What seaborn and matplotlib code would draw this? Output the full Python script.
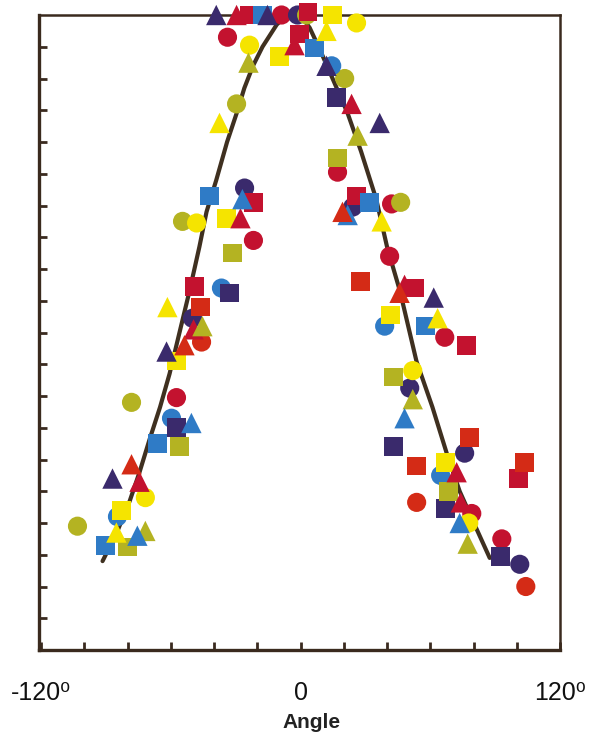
import numpy as np
import pandas as pd
import seaborn as sns
import matplotlib.pyplot as plt
from matplotlib.ticker import FixedLocator

# colours of the six series
colours = {
    "yellow": "#f5e400",
    "olive": "#b4b322",
    "crimson": "#c3122f",
    "vermilion": "#d42b16",
    "blue": "#2f7bc6",
    "navy": "#3a2a6c",
}

# circles
circle_angle = [-8.8, -33.8, 17.1, 42.1, -21.8, -57.4, 41.2, 66.7, 79.2, 93.1,
                -1.4, 24.1, -25.9, -50.0, 50.5, 75.9, 101.4,
                2.8, 20.4, -29.6, 46.3, -54.6, -78.2, -103.2,
                25.9, -23.6, -48.1, -71.8, 51.9, 77.8,
                14.4, -36.6, -59.7, -84.7, 38.9, 64.8,
                -45.8, 53.7, 104.2]
circle_value = [20.0, 19.3, 15.05, 14.05, 12.9, 7.95, 12.4, 9.85, 4.3, 3.5,
                20.0, 13.95, 14.55, 10.45, 8.25, 6.2, 2.7,
                20.0, 18.0, 17.2, 14.1, 13.5, 7.8, 3.9,
                19.75, 19.05, 13.45, 4.8, 8.8, 4.0,
                18.4, 11.4, 7.3, 4.2, 10.2, 5.5,
                9.7, 4.65, 2.0]
circle_colour = (["crimson"] * 10 + ["navy"] * 7 + ["olive"] * 7 + ["yellow"] * 6
                 + ["blue"] * 6 + ["vermilion"] * 3)

# squares
square_angle = [-23.6, 3.5, -0.5, 25.9, -21.8, -49.1, 52.8, 76.9, 100.9,
                16.7, -32.9, -57.4, 43.1, 67.1, 92.6,
                17.1, -31.5, -56.0, -80.1, 43.1, 68.5,
                14.8, -9.7, -34.3, -57.4, -82.9, 41.7, 67.1,
                -17.6, 6.5, 31.9, -42.1, -66.2, -90.3, 57.9,
                -46.3, 27.8, 78.2, 53.7, 103.7]
square_value = [20.0, 20.1, 19.4, 14.3, 14.1, 11.45, 11.4, 9.6, 5.4,
                17.4, 11.25, 7.0, 6.4, 4.45, 2.95,
                15.5, 12.5, 6.4, 3.25, 8.6, 5.0,
                20.0, 18.7, 13.6, 9.1, 4.4, 10.55, 5.9,
                20.0, 18.96, 14.1, 14.3, 6.5, 3.3, 10.2,
                10.8, 11.6, 6.7, 5.8, 5.9]
square_colour = (["crimson"] * 9 + ["navy"] * 6 + ["olive"] * 6 + ["yellow"] * 7
                 + ["blue"] * 7 + ["vermilion"] * 5)

# triangles
triangle_angle = [-39.0, -15.3, 12.0, 36.6, -62.0, -87.0, 61.6,
                  -29.6, -2.8, 23.6, -27.8, -49.5, -74.5, 48.1, 72.2, 74.1,
                  12.0, -37.5, 37.5, -61.6, -85.2, 63.4,
                  -24.1, 26.4, -45.4, -71.8, 51.9, 77.3,
                  21.8, -26.9, -50.5, -75.5, 48.1, 73.6,
                  19.4, -53.7, -78.2, 45.8]
triangle_value = [20.0, 20.0, 18.4, 16.6, 9.4, 5.4, 11.1,
                  20.0, 19.05, 17.2, 13.6, 10.1, 5.3, 11.5, 5.6, 4.65,
                  19.5, 16.6, 13.5, 10.8, 3.7, 10.45,
                  18.5, 16.2, 10.2, 3.75, 7.9, 3.35,
                  13.7, 14.2, 7.15, 3.6, 7.3, 4.0,
                  13.8, 9.6, 5.85, 11.25]
triangle_colour = (["navy"] * 7 + ["crimson"] * 9 + ["yellow"] * 6 + ["olive"] * 6
                   + ["blue"] * 6 + ["vermilion"] * 4)

# fitted curve
curve_angle = [-91.6, -85, -79, -74.5, -70, -65, -60.6, -56, -51.4, -46.8, -43.5,
               -39, -34, -29.6, -26, -22, -17.6, -11, -7, -3, 1, 4.2, 9, 14.8,
               21.8, 28, 35, 40, 46, 53.6, 61, 67.6, 73.6, 81.5, 87.5]
curve_value = [2.8, 3.7, 4.7, 5.6, 6.6, 7.65, 8.7, 10.0, 11.3, 12.7, 13.8,
               14.8, 16.0, 16.9, 17.7, 18.4, 19.0, 19.7, 19.95, 20.05, 19.9, 19.6, 18.9, 18.0,
               16.9, 15.7, 14.2, 12.7, 11.3, 9.1, 7.65, 6.2, 5.0, 3.8, 2.9]

sns.set_style("white")
plt.rcParams["font.family"] = ["Liberation Sans", "DejaVu Sans"]
plt.rcParams["text.color"] = "#111111"
plt.rcParams["xtick.labelcolor"] = "#111111"

fig = plt.figure(figsize=(5.9, 7.32), dpi=100)
ax = fig.add_axes([0.0661, 0.112, 0.883, 0.8675])

sns.lineplot(x=curve_angle, y=curve_value, ax=ax, color="#3f3020", lw=3.0, sort=False)

groups = [
    (circle_angle, circle_value, circle_colour, "o", 190),
    (square_angle, square_value, square_colour, "s", 180),
    (triangle_angle, triangle_value, triangle_colour, "^", 215),
]
for xs, ys, cs, mk, size in groups:
    df = pd.DataFrame({"angle": xs, "value": ys, "colour": cs})
    sns.scatterplot(data=df, x="angle", y="value", hue="colour", palette=colours,
                    marker=mk, s=size, linewidth=0, ax=ax, legend=False,
                    clip_on=False, zorder=3)

ax.set_xlim(-121, 120)
ax.set_ylim(0, 20)

ax.xaxis.set_major_locator(FixedLocator([-120, -100, -80, -60, -40, -20, 0,
                                         20, 40, 60, 80, 100, 120]))
ax.set_xticklabels(["-120\u2070", "", "", "", "", "", "0", "", "", "", "", "", "120\u2070"])
ax.yaxis.set_major_locator(FixedLocator(np.arange(1, 20)))
ax.set_yticklabels([])

ax.tick_params(axis="both", direction="in", length=6, width=2, color="#3a2a1e",
               labelsize=18, pad=22)
ax.tick_params(axis="y", left=True)
ax.tick_params(axis="x", bottom=True)

for side in ["left", "right", "top", "bottom"]:
    ax.spines[side].set_color("#3a2a1e")
    ax.spines[side].set_linewidth(1.8)
ax.spines["left"].set_linewidth(2.4)
ax.spines["bottom"].set_linewidth(2.4)

ax.set_xlabel("Angle", fontsize=15, fontweight="bold", x=0.524, labelpad=6,
              color="#222222")
ax.set_ylabel("")

plt.savefig("out.png", dpi=100)
